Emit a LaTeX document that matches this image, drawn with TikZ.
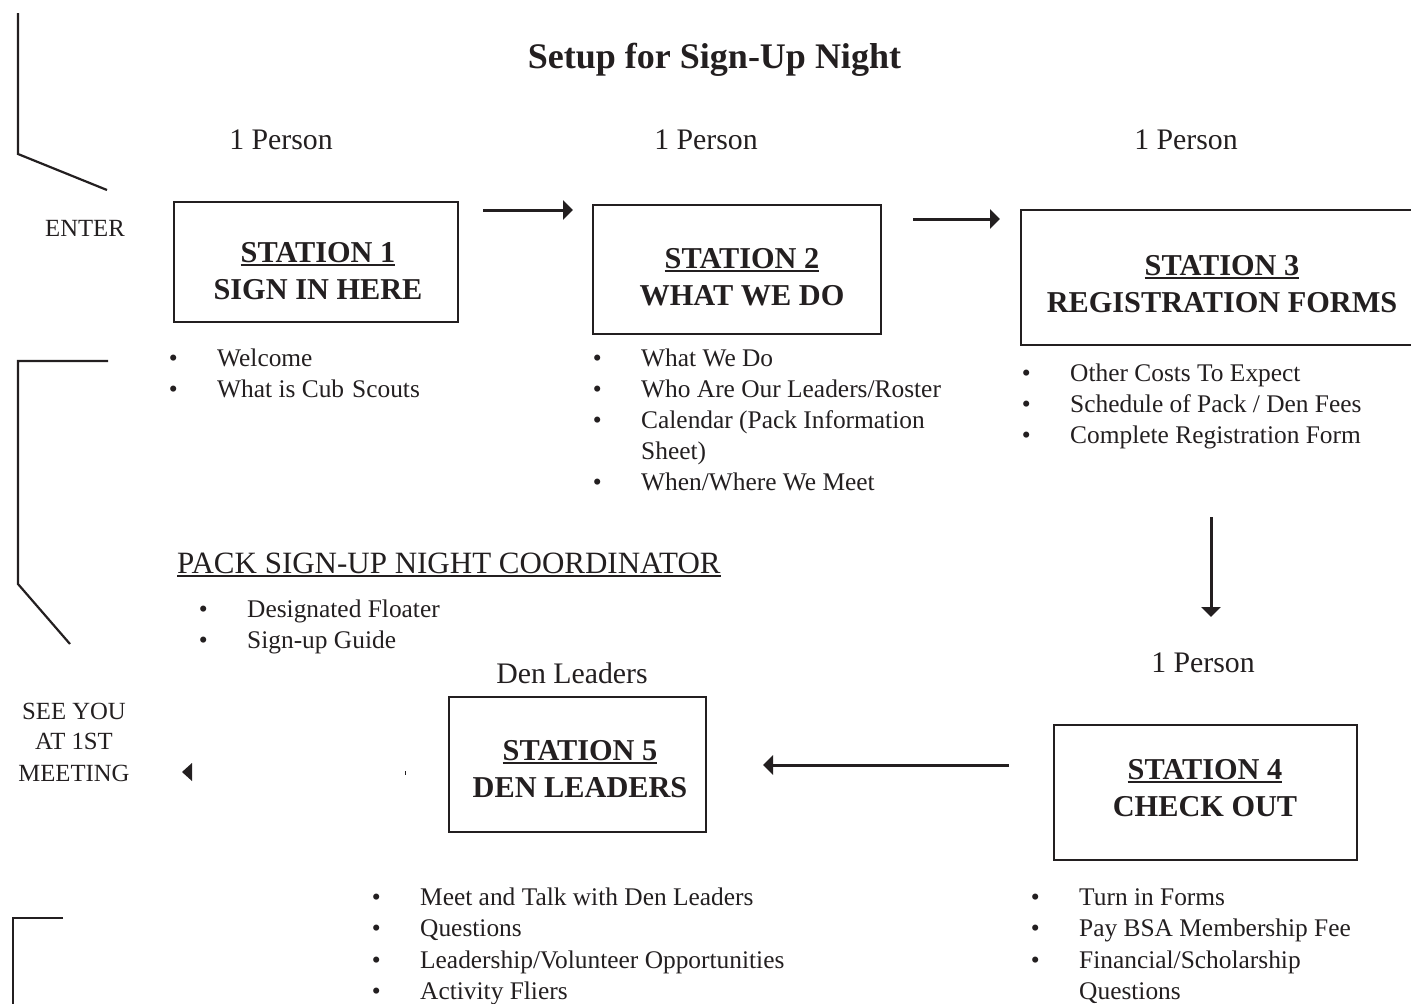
\documentclass[tikz,border=0pt]{standalone}
\usepackage{fontspec}
\setmainfont{Liberation Serif}
\usetikzlibrary{arrows.meta}
\definecolor{ink}{HTML}{231F20}
\newcommand\myul[1]{\setbox0\hbox{#1}\rlap{\rule[-4pt]{\wd0}{2pt}}\box0}
\newcommand\bl{\llap{\makebox[88pt][c]{•}}}
\tikzset{
  every node/.style={text=ink},
  stbox/.style={draw=ink, line width=2.2pt, inner sep=0pt},
  sttext/.style={anchor=base, inner sep=0pt, font=\fontsize{30.3}{36}\selectfont\bfseries},
  bul/.style={anchor=base west, inner sep=0pt, font=\fontsize{25.4}{30}\selectfont},
  lab/.style={anchor=base, inner sep=0pt, font=\fontsize{29.8}{36}\selectfont},
  side/.style={anchor=base, inner sep=0pt, font=\fontsize{24.7}{30}\selectfont},
  arr/.style={draw=ink, line width=3pt, -{Triangle[length=10pt,width=19pt]}},
  wall/.style={draw=ink, line width=2.2pt}
}
\begin{document}
\begin{tikzpicture}[x=1pt,y=-1pt]
\useasboundingbox (0,0) rectangle (1411,1004);
% title
\node[anchor=base, inner sep=0pt, font=\fontsize{36}{42}\selectfont\bfseries] (title) at (714.5,68) {Setup for Sign-Up Night};
% person labels
\node[lab] (p1) at (281,149) {1 Person};
\node[lab] (p2) at (706,149) {1 Person};
\node[lab] (p3) at (1186,149) {1 Person};
\node[lab] (p4) at (1203,672) {1 Person};
\node[lab] (p5) at (572,683) {Den Leaders};
% boxes
\node[stbox, minimum width=284pt, minimum height=120pt] (box1) at (316,262) {};
\node[stbox, minimum width=288pt, minimum height=129pt] (box2) at (737,269.5) {};
\node[stbox, minimum width=399pt, minimum height=135pt] (box3) at (1220.5,277.5) {};
\node[stbox, minimum width=303pt, minimum height=135pt] (box4) at (1205.5,792.5) {};
\node[stbox, minimum width=257pt, minimum height=135pt] (box5) at (577.5,764.5) {};
% station texts
\node[sttext] (s1a) at (318,262) {\myul{STATION 1}};
\node[sttext] (s1b) at (318,299) {SIGN IN HERE};
\node[sttext] (s2a) at (742,268) {\myul{STATION 2}};
\node[sttext] (s2b) at (742,305) {WHAT WE DO};
\node[sttext] (s3a) at (1222,275) {\myul{STATION 3}};
\node[sttext] (s3b) at (1222,312) {REGISTRATION FORMS};
\node[sttext] (s4a) at (1205,779) {\myul{STATION 4}};
\node[sttext] (s4b) at (1205,816) {CHECK OUT};
\node[sttext] (s5a) at (580,760) {\myul{STATION 5}};
\node[sttext] (s5b) at (580,797) {DEN LEADERS};
% bullets station 1
\node[bul] (b11) at (217,366) {\bl Welcome};
\node[bul] (b12) at (217,397) {\bl What is Cub\hspace{8pt}Scouts};
% bullets station 2
\node[bul] (b21) at (641,366) {\bl What We Do};
\node[bul] (b22) at (641,397) {\bl Who Are Our Leaders/Roster};
\node[bul] (b23) at (641,428) {\bl Calendar (Pack Information};
\node[bul] (b24) at (641,459) {Sheet)};
\node[bul] (b25) at (641,490) {\bl When/Where We Meet};
% bullets station 3
\node[bul] (b31) at (1070,381) {\bl Other Costs To Expect};
\node[bul] (b32) at (1070,412) {\bl Schedule of Pack / Den Fees};
\node[bul] (b33) at (1070,443) {\bl Complete Registration Form};
% coordinator
\node[anchor=base west, inner sep=0pt, font=\fontsize{31}{36}\selectfont] (coord) at (177,573) {\myul{PACK SIGN-UP NIGHT COORDINATOR}};
\node[bul] (c1) at (247,617) {\bl Designated Floater};
\node[bul] (c2) at (247,648) {\bl Sign-up Guide};
% bullets station 5
\node[bul] (b51) at (420,905) {\bl Meet and Talk with Den Leaders};
\node[bul] (b52) at (420,936) {\bl Questions};
\node[bul] (b53) at (420,968) {\bl Leadership/Volunteer Opportunities};
\node[bul] (b54) at (420,999) {\bl Activity Fliers};
% bullets station 4
\node[bul] (b41) at (1079,905) {\bl Turn in Forms};
\node[bul] (b42) at (1079,936) {\bl Pay BSA Membership Fee};
\node[bul] (b43) at (1079,968) {\bl Financial/Scholarship};
\node[bul] (b44) at (1079,999) {Questions};
% side texts
\node[side] (enter) at (85,236) {ENTER};
\node[side] (see1) at (74,719) {SEE YOU};
\node[side] (see2) at (74,749) {AT 1ST};
\node[side] (see3) at (74,781) {MEETING};
% arrows
\coordinate (a1s) at (483,210); \coordinate (a1e) at (573,210);
\coordinate (a2s) at (913,219); \coordinate (a2e) at (1000,219);
\coordinate (a3s) at (1211,517); \coordinate (a3e) at (1211,617);
\coordinate (a4s) at (1009,765); \coordinate (a4e) at (763,765);
\draw[arr] (a1s) -- (a1e);
\draw[arr] (a2s) -- (a2e);
\draw[arr] (a3s) -- (a3e);
\draw[arr] (a4s) -- (a4e);
% lone arrowhead
\fill[ink] (182,772) -- (192,763) -- (192,781) -- cycle;
% tiny mark
\draw[ink, line width=0.8pt] (405,771) -- (405,775);
% walls
\draw[wall] (18,13) -- (18,154) -- (107,190);
\draw[wall] (108,361) -- (18,361) -- (18,584) -- (70,644);
\draw[wall] (63,918) -- (13,918) -- (13,1004);
\end{tikzpicture}
\end{document}
